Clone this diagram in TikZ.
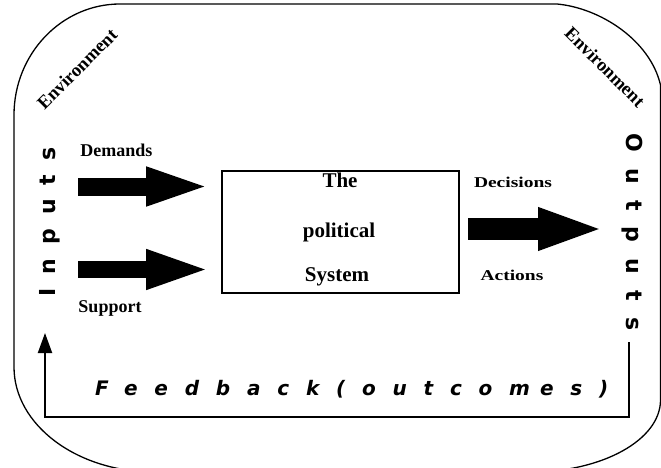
\documentclass[tikz,border=0pt]{standalone}
\usepackage{fontspec}
\setmainfont{Liberation Serif}
% widely spaced heavy sans for the side and bottom labels
\newfontfamily\inputfont[LetterSpace=64]{DejaVu Sans}
\newfontfamily\outputfont[LetterSpace=74]{DejaVu Sans}
\newfontfamily\feedbackfont[LetterSpace=84]{DejaVu Sans}
\usetikzlibrary{arrows.meta,calc}

\tikzset{
  envlabel/.style={inner sep=0pt, font=\fontsize{18.5}{18.5}\selectfont\bfseries},
  flowlabel/.style={inner sep=0pt, anchor=base, font=\fontsize{18}{18}\selectfont\bfseries},
  widelabel/.style={inner sep=0pt, anchor=base, xscale=1.3, font=\fontsize{15}{15}\selectfont\bfseries},
  syslabel/.style={inner sep=0pt, anchor=base, font=\fontsize{21}{21}\selectfont\bfseries},
  sysbox/.style={draw, line width=1.6pt, minimum width=237pt, minimum height=122pt, inner sep=0pt},
  boundary/.style={line width=1.3pt},
  fatarrow/.style n args={3}{line width=#1, -{Triangle[width=#2,length=#3]}},
  loopline/.style={line width=2pt, -{Triangle[width=14pt,length=20pt]}},
}

\begin{document}
\begin{tikzpicture}[x=1pt,y=-1pt]
\useasboundingbox (0,0) rectangle (661,468);
\fill[white] (0,0) rectangle (661,468);

% surrounding environment boundary
\begin{scope}
\clip (0,0) rectangle (661,468);
\draw[boundary] (14,367) -- (14,115)
  .. controls (14,54) and (61.5,4) .. (120,4) -- (557,4)
  .. controls (600,8) and (650,40) .. (660.5,85) -- (660.5,400)
  .. controls (660.5,440) and (602,472) .. (531,472) -- (154,472)
  .. controls (77,472) and (14,425) .. cycle;
\end{scope}

\node[envlabel, rotate=45] (env-left) at (77,69) {Environment};
\node[envlabel, rotate=-45] (env-right) at (605,67) {Environment};

% side labels
\node[inner sep=0pt, anchor=base west, rotate=90,
      font=\fontsize{22}{22}\selectfont\bfseries\inputfont] (inputs) at (55,297) {Inputs};
\node[inner sep=0pt, anchor=base west, rotate=-90,
      font=\fontsize{22}{22}\selectfont\bfseries\outputfont] (outputs) at (626,133) {Outputs};

% the political system
\node[sysbox] (sys) at (340.5,232) {};
\node[syslabel] (sys-the) at (340,187) {The};
\node[syslabel] (sys-pol) at (339,237) {political};
\node[syslabel] (sys-sys) at (337,281) {System};

% inputs
\node[flowlabel] (demands) at (116.5,157) {Demands};
\node[flowlabel] (support) at (110,312) {Support};
\coordinate (dmd-tail) at (78,186.5);
\coordinate (sup-tail) at (78,269.5);
\draw[fatarrow={18pt}{34pt}{66pt}] (dmd-tail) -- ([xshift=-9pt]sys.west |- dmd-tail);
\draw[fatarrow={17pt}{35pt}{66pt}] (sup-tail) -- ([xshift=-9pt]sys.west |- sup-tail);

% outputs
\node[widelabel] (decisions) at (513,187) {Decisions};
\node[widelabel] (actions) at (512,280) {Actions};
\coordinate (out-tail) at (468,229);
\coordinate (out-tip) at (605,229);
\draw[fatarrow={22pt}{38pt}{67pt}] (out-tail) -- (out-tip);

% feedback loop
\coordinate (fb-start) at (629,342);
\coordinate (fb-right) at (629,417);
\coordinate (fb-left) at (45,417);
\coordinate (fb-tip) at (45,333);
\draw[loopline] (fb-start) -- (fb-right) -- (fb-left) -- (fb-tip);
\node[inner sep=0pt, anchor=base west,
      font=\fontsize{20}{20}\selectfont\bfseries\itshape\feedbackfont] (feedback) at (95,395)
      {Feedback(outcom\kern10pt es)};
\end{tikzpicture}
\end{document}
